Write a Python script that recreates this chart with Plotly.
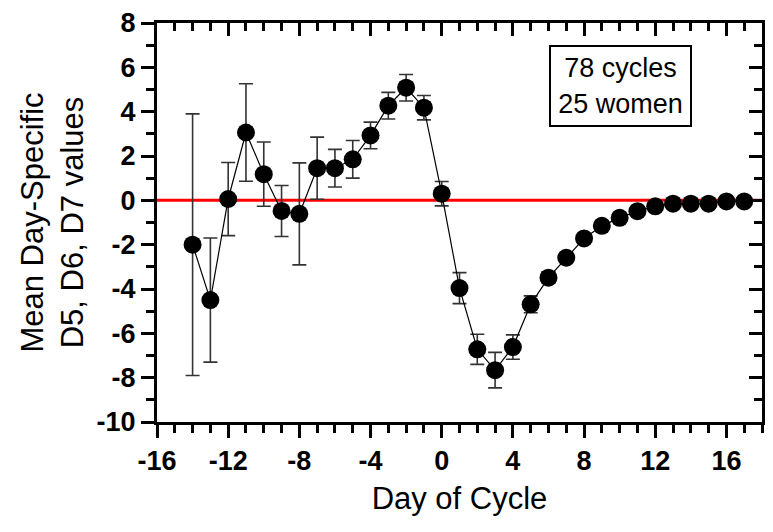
import plotly.graph_objects as go

days = list(range(-14, 18))
means = [-2.0, -4.5, 0.06, 3.06, 1.18, -0.48, -0.61, 1.45, 1.45, 1.85, 2.93, 4.27, 5.08, 4.18,
         0.3, -3.96, -6.72, -7.66, -6.62, -4.69, -3.49, -2.59, -1.72, -1.15, -0.79, -0.49,
         -0.27, -0.15, -0.15, -0.15, -0.05, -0.05]
errs = [5.9, 2.8, 1.65, 2.2, 1.45, 1.15, 2.3, 1.4, 0.85, 0.85, 0.6, 0.6, 0.6, 0.55,
        0.55, 0.7, 0.68, 0.8, 0.55, 0.38, 0.25, 0.2, 0.15, 0.12, 0.1, 0.1,
        0.08, 0.08, 0.08, 0.08, 0.08, 0.08]
x_ticks = [-16, -12, -8, -4, 0, 4, 8, 12, 16]
y_ticks = [8, 6, 4, 2, 0, -2, -4, -6, -8, -10]
note_lines = ["78 cycles", "25 women"]

FONT = "Arial, Liberation Sans, sans-serif"

fig = go.Figure()
fig.add_trace(go.Scatter(
    x=[-16, 18], y=[0, 0], mode="lines",
    line=dict(color="#ff0000", width=3), hoverinfo="skip", showlegend=False))
fig.add_trace(go.Scatter(
    x=days, y=means, mode="lines+markers",
    line=dict(color="black", width=1.2),
    marker=dict(color="black", size=18),
    error_y=dict(type="data", array=errs, visible=True, color="#333333", thickness=1.6, width=7),
    showlegend=False))

axis_common = dict(showline=True, linecolor="black", linewidth=3, showgrid=False,
                   zeroline=False, automargin=False, ticklabeloverflow="allow")

# the page body adds an 8px margin on every side; the figure is sized so the page fits the window
fig.update_layout(
    template="none",
    width=757, height=516,
    margin=dict(l=149, r=3, t=15, b=102),
    paper_bgcolor="white", plot_bgcolor="white",
    font=dict(family=FONT, color="black"),
    xaxis=dict(range=[-16, 18], tickmode="array", tickvals=x_ticks,
               ticktext=[str(v) for v in x_ticks], mirror=True,
               ticks="outside", ticklen=13, tickwidth=2.5, tickcolor="black",
               minor=dict(dtick=1, ticks="outside", ticklen=8, tickwidth=2.5, tickcolor="black"),
               tickfont=dict(size=27, family=FONT, weight="bold"),
               title=dict(text="Day of Cycle", font=dict(size=31, family=FONT), standoff=12),
               **axis_common),
    yaxis=dict(range=[-10, 8], tickmode="array", tickvals=y_ticks,
               ticktext=[str(v) for v in y_ticks], mirror=True,
               ticks="outside", ticklen=13, tickwidth=2.5, tickcolor="black",
               minor=dict(dtick=1, ticks="outside", ticklen=8, tickwidth=2.5, tickcolor="black"),
               tickfont=dict(size=27, family=FONT, weight="bold"),
               title=dict(text="Mean Day-Specific<br>D5, D6, D7 values",
                          font=dict(size=31, family=FONT), standoff=4),
               **axis_common),
    xaxis2=dict(range=[-16, 18], overlaying="x", anchor="y", side="top", tickvals=x_ticks,
                showticklabels=False, ticks="inside", ticklen=13, tickwidth=2.5, tickcolor="black",
                minor=dict(dtick=1, ticks="inside", ticklen=8, tickwidth=2.5, tickcolor="black"),
                **axis_common),
    yaxis2=dict(range=[-10, 8], overlaying="y", anchor="x", side="right", tickvals=y_ticks,
                showticklabels=False, ticks="inside", ticklen=13, tickwidth=2.5, tickcolor="black",
                minor=dict(dtick=1, ticks="inside", ticklen=8, tickwidth=2.5, tickcolor="black"),
                **axis_common),
)

# invisible traces to activate the mirrored tick axes
fig.add_trace(go.Scatter(x=[None], y=[None], xaxis="x2", yaxis="y", showlegend=False))
fig.add_trace(go.Scatter(x=[None], y=[None], xaxis="x", yaxis="y2", showlegend=False))

fig.add_annotation(
    x=(620.5 - 157) / 605, y=(422 - 86) / 399, xref="paper", yref="paper",
    xanchor="center", yanchor="middle",
    text="<br>".join(note_lines), showarrow=False,
    font=dict(size=27, family=FONT, color="black"),
    width=135, height=74, align="center", valign="middle",
    bordercolor="black", borderwidth=2, borderpad=2, bgcolor="white")

fig.write_html("out.html")
